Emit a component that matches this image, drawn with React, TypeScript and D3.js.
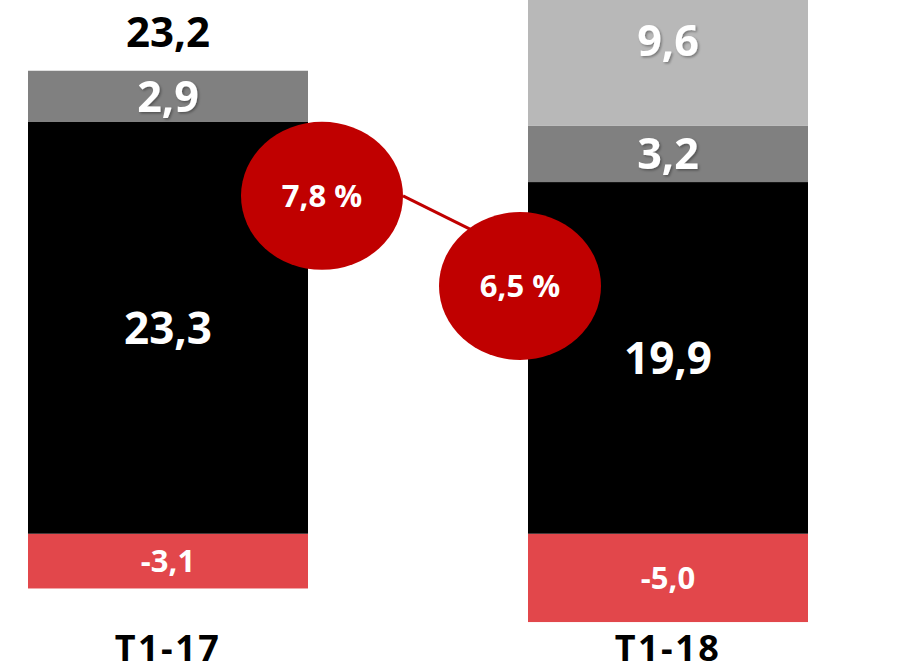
import { useMemo } from 'react';
import * as d3 from 'd3';

const W = 915;
const H = 671;

// données
const categories = ['T1-17', 'T1-18'];
const negatifs = [-3.1, -5.0];
const principal = [23.3, 19.9];
const secondaire = [2.9, 3.2];
const complement = [0, 9.6];
const totaux = [23.2, null];
const taux = [7.8, 6.5];

const keys = ['negatifs', 'principal', 'secondaire', 'complement'] as const;
const colors: Record<string, string> = {
    negatifs: '#E2474B',
    principal: '#000000',
    secondaire: '#808080',
    complement: '#B8B8B8',
};
const labelSize: Record<string, number> = {
    negatifs: 31,
    principal: 44,
    secondaire: 43,
    complement: 43,
};

const fmt = (v: number) => v.toFixed(1).replace('.', ',');
const FONT = '"Open Sans", "DejaVu Sans", sans-serif';

export default function App() {
    const rows = categories.map((c, i) => ({
        cat: c,
        negatifs: negatifs[i],
        principal: principal[i],
        secondaire: secondaire[i],
        complement: complement[i],
    }));

    const series = useMemo(
        () => d3.stack<any>().keys(keys as any).offset(d3.stackOffsetDiverging)(rows),
        []
    );

    const x = d3.scaleBand().domain(categories).range([-82, 918]).paddingInner(0.44).paddingOuter(0.22);
    const y = d3.scaleLinear().domain([-5, 25]).range([622.05, 91.95]);

    // bulles (taux)
    const xr = d3.scalePoint().domain(categories).range([322, 520]);
    const yr = d3.scaleLinear().domain([5, 8]).range([390, 182]);
    const rx = 81;
    const ry = 74;

    const p0 = { x: (xr(categories[0]) ?? 0) + rx, y: yr(taux[0]) };
    const p1 = { x: (xr(categories[1]) ?? 0) - rx * 0.4, y: yr(taux[1]) - ry * 0.65 };

    return (
        <svg width={W} height={H} style={{ position: 'absolute', left: 0, top: 0, fontFamily: FONT }}>
            <defs>
                <filter id="ombre" x="-20%" y="-20%" width="140%" height="140%">
                    <feDropShadow dx="1.5" dy="1.5" stdDeviation="1" floodColor="#000" floodOpacity="0.35" />
                </filter>
            </defs>
            <rect width={W} height={H} fill="#fff" />
            {series.map((s) => (
                <g key={s.key}>
                    {s.map((d, i) => {
                        const v = (d.data as any)[s.key];
                        if (!v) return null;
                        const top = y(d[1]);
                        const bot = y(d[0]);
                        const bx = x(categories[i]) ?? 0;
                        return (
                            <g key={i}>
                                <rect x={bx} y={top} width={x.bandwidth()} height={bot - top} fill={colors[s.key]} />
                                <text
                                    x={bx + x.bandwidth() / 2}
                                    y={(top + bot) / 2}
                                    dy="0.36em"
                                    textAnchor="middle"
                                    fill="#fff"
                                    fontWeight={700}
                                    fontSize={labelSize[s.key]}
                                    filter={s.key === 'secondaire' || s.key === 'complement' ? 'url(#ombre)' : undefined}
                                >
                                    {fmt(v)}
                                </text>
                            </g>
                        );
                    })}
                </g>
            ))}
            {totaux.map((t, i) =>
                t == null ? null : (
                    <text
                        key={i}
                        x={(x(categories[i]) ?? 0) + x.bandwidth() / 2}
                        y={y(principal[i] + secondaire[i] + complement[i]) - 24}
                        textAnchor="middle"
                        fontWeight={700}
                        fontSize={42}
                        fill="#000"
                    >
                        {fmt(t)}
                    </text>
                )
            )}
            {categories.map((c) => (
                <text
                    key={c}
                    x={(x(c) ?? 0) + x.bandwidth() / 2}
                    y={661}
                    textAnchor="middle"
                    fontWeight={700}
                    fontSize={36}
                    letterSpacing={2.5}
                    fill="#000"
                >
                    {c}
                </text>
            ))}
            <line x1={p0.x} y1={p0.y} x2={p1.x} y2={p1.y} stroke="#C00000" strokeWidth={3} />
            {taux.map((t, i) => (
                <g key={i} transform={`translate(${xr(categories[i])},${yr(t)})`}>
                    <ellipse rx={rx} ry={ry} fill="#C00000" />
                    <text textAnchor="middle" dy="0.36em" fill="#fff" fontWeight={700} fontSize={31}>
                        {fmt(t) + ' %'}
                    </text>
                </g>
            ))}
        </svg>
    );
}
